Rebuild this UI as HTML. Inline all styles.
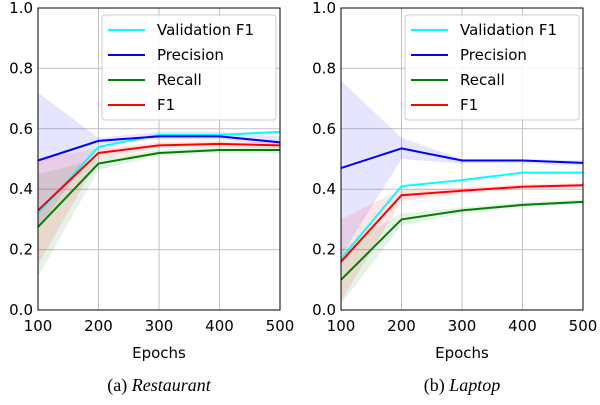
<!DOCTYPE html>
<html><head><meta charset="utf-8"><style>
body{margin:0;background:#fff}
svg text{font-family:"DejaVu Sans","Liberation Sans",sans-serif}
</style></head><body>
<svg id="c" width="600" height="400" xmlns="http://www.w3.org/2000/svg"></svg>
<script>
const epochs=[100,200,300,400,500];
const yTicks=[0,0.2,0.4,0.6,0.8,1.0];
const seriesNames=["Validation F1","Precision","Recall","F1"];
const colors=["#00ffff","#0000ff","#008000","#ff0000"];
const restVal=[0.32,0.54,0.58,0.58,0.59];
const restPrec=[0.495,0.56,0.575,0.575,0.555];
const restRec=[0.275,0.485,0.52,0.53,0.53];
const restF1=[0.33,0.52,0.545,0.55,0.545];
const restPrecLo=[0.27,0.55,0.565,0.565,0.545];
const restPrecHi=[0.72,0.57,0.59,0.59,0.575];
const restRecLo=[0.11,0.465,0.51,0.52,0.52];
const restRecHi=[0.45,0.5,0.53,0.54,0.54];
const restF1Lo=[0.15,0.5,0.535,0.54,0.535];
const restF1Hi=[0.5,0.535,0.555,0.56,0.555];
const lapVal=[0.17,0.41,0.43,0.455,0.455];
const lapPrec=[0.47,0.535,0.495,0.495,0.487];
const lapRec=[0.10,0.30,0.33,0.348,0.358];
const lapF1=[0.16,0.38,0.395,0.408,0.413];
const lapPrecLo=[0.18,0.5,0.485,0.485,0.478];
const lapPrecHi=[0.76,0.57,0.5,0.5,0.495];
const lapRecLo=[0.02,0.28,0.32,0.34,0.35];
const lapRecHi=[0.2,0.32,0.34,0.356,0.366];
const lapF1Lo=[0.03,0.36,0.385,0.4,0.405];
const lapF1Hi=[0.3,0.4,0.405,0.416,0.421];
const NS="http://www.w3.org/2000/svg";
const svg=document.getElementById('c');
function mk(tag,attrs,parent){const e=document.createElementNS(NS,tag);for(const k in attrs)e.setAttribute(k,attrs[k]);(parent||svg).appendChild(e);return e;}
function panel(x0,x1,title,italic,lines,bands,key){
  const y0=310,y1=8;
  const X=v=>x0+(v-100)/400*(x1-x0);
  const Y=v=>y0-v*(y0-y1);
  const g=mk('g',{});
  
  
  epochs.forEach(e=>{const l=mk('line',{x1:X(e),x2:X(e),y1:y1,y2:y0,stroke:'#c0c0c0','stroke-width':1},g);
    
    const t=mk('text',{x:X(e),y:y0+21,'text-anchor':'middle','font-size':15},g);t.textContent=e;
    });
  yTicks.forEach(v=>{const l=mk('line',{x1:x0,x2:x1,y1:Y(v),y2:Y(v),stroke:'#c0c0c0','stroke-width':1},g);
    
    const t=mk('text',{x:x0-5,y:Y(v)+5,'text-anchor':'end','font-size':15},g);t.textContent=v.toFixed(1);
    });
  bands.forEach(([lo,hi,c])=>{
    const pts=epochs.map((e,i)=>X(e)+','+Y(hi[i])).concat(epochs.slice().reverse().map((e,j)=>{const i=epochs.length-1-j;return X(e)+','+Y(lo[i]);}));
    const p=mk('polygon',{points:pts.join(' '),fill:c,'fill-opacity':0.1},g);
    });
  lines.forEach((vals,i)=>{const p=mk('polyline',{points:epochs.map((e,j)=>X(e)+','+Y(vals[j])).join(' '),fill:'none',stroke:colors[i],'stroke-width':2},g);
    });
  const fr=mk('rect',{x:x0,y:y1,width:x1-x0,height:y0-y1,fill:'none',stroke:'#000','stroke-width':1},g);
  
  const lg=mk('g',{},g);
  
  const lx=x0+64;
  mk('rect',{x:lx,y:15,width:x1-4-lx,height:105,fill:'#fff','fill-opacity':0.85,stroke:'#ccc',rx:3},lg);
  seriesNames.forEach((n,i)=>{const yy=30+i*25;
    mk('line',{x1:lx+6,x2:lx+43,y1:yy,y2:yy,stroke:colors[i],'stroke-width':2},lg);
    const t=mk('text',{x:lx+55,y:yy+5,'font-size':15},lg);t.textContent=n;
    });
  const xl=mk('text',{x:(x0+x1)/2,y:358,'text-anchor':'middle','font-size':15},g);xl.textContent='Epochs';
  
  const tt=mk('text',{x:(x0+x1)/2,y:391,'text-anchor':'middle','font-size':18,style:'font-family:"Liberation Serif",serif'},g);
  
  const a=mk('tspan',{},tt);a.textContent=title+' ';
  const b=mk('tspan',{'font-style':'italic'},tt);b.textContent=italic;
}
panel(38,280,'(a)','Restaurant',[restVal,restPrec,restRec,restF1],
  [[restPrecLo,restPrecHi,'#0000ff'],[restRecLo,restRecHi,'#008000'],[restF1Lo,restF1Hi,'#ff0000']],'restaurant');
panel(341,583,'(b)','Laptop',[lapVal,lapPrec,lapRec,lapF1],
  [[lapPrecLo,lapPrecHi,'#0000ff'],[lapRecLo,lapRecHi,'#008000'],[lapF1Lo,lapF1Hi,'#ff0000']],'laptop');
</script>
</body></html>
